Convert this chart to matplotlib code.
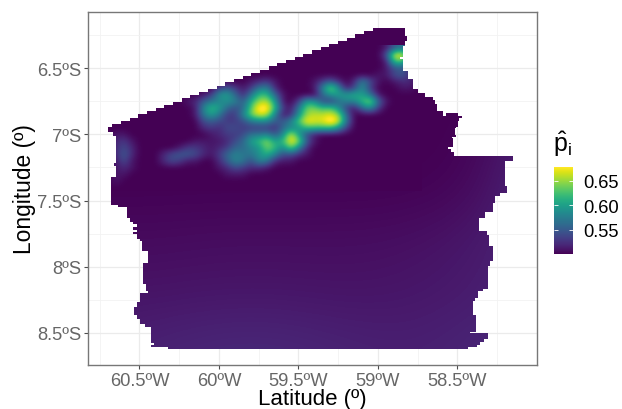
#!/usr/bin/python

# Raster map of p hat over the study area, with a stepped boundary

import numpy as np
import matplotlib
matplotlib.use('Agg')
import matplotlib.pyplot as plt
from matplotlib.colors import Normalize
from matplotlib.patches import PathPatch
from matplotlib.path import Path

plt.rcParams['font.family'] = ['Liberation Sans', 'DejaVu Sans']
plt.rcParams['mathtext.fontset'] = 'custom'
plt.rcParams['mathtext.rm'] = 'Liberation Sans'
plt.rcParams['mathtext.it'] = 'Liberation Sans:italic'

x_ticks = [-60.5, -60, -59.5, -59, -58.5]
x_labels = ['60.5ºW', '60ºW', '59.5ºW', '59ºW', '58.5ºW']
x_minor = [-60.75, -60.25, -59.75, -59.25, -58.75, -58.25]
y_ticks = [-6.5, -7, -7.5, -8, -8.5]
y_labels = ['6.5ºS', '7ºS', '7.5ºS', '8ºS', '8.5ºS']
y_minor = [-6.25, -6.75, -7.25, -7.75, -8.25]
bar_ticks = [0.55, 0.60, 0.65]
bar_labels = ['0.55', '0.60', '0.65']

# Boundary of the area, clockwise from the flat top edge
border_lon = [-58.827, -58.827, -58.815, -58.815, -58.827, -58.827, -58.840, -58.840, -58.840, -58.859,
              -58.859, -58.840, -58.840, -58.809, -58.777, -58.777, -58.746, -58.702, -58.651, -58.639,
              -58.626, -58.594, -58.588, -58.569, -58.494, -58.469, -58.487, -58.494, -58.506, -58.513,
              -58.506, -58.532, -58.525, -58.557, -58.538, -58.519, -58.128, -58.147, -58.198, -58.198,
              -58.185, -58.229, -58.261, -58.273, -58.324, -58.361, -58.361, -58.311, -58.298, -58.273,
              -58.273, -58.292, -58.305, -58.305, -58.336, -58.368, -58.387, -58.399, -58.399, -58.380,
              -58.380, -58.418, -58.307, -58.305, -58.330, -58.355, -58.374, -58.431, -60.320, -60.320,
              -60.427, -60.427, -60.408, -60.408, -60.427, -60.427, -60.465, -60.496, -60.515, -60.537,
              -60.537, -60.515, -60.515, -60.499, -60.499, -60.448, -60.448, -60.458, -60.458, -60.477,
              -60.477, -60.448, -60.448, -60.484, -60.484, -60.499, -60.515, -60.540, -60.540, -60.515,
              -60.515, -60.540, -60.540, -60.515, -60.515, -60.540, -60.540, -60.559, -60.578, -60.578,
              -60.635, -60.679, -60.679, -60.647, -60.647, -60.660, -60.660, -60.647, -60.647, -60.666,
              -60.698]
border_lat = [-6.197, -6.258, -6.258, -6.295, -6.295, -6.333, -6.333, -6.393, -6.412, -6.412,
              -6.427, -6.427, -6.522, -6.582, -6.582, -6.658, -6.688, -6.718, -6.741, -6.771,
              -6.824, -6.824, -6.862, -6.839, -6.862, -6.877, -6.900, -6.945, -6.952, -7.002,
              -7.020, -7.028, -7.096, -7.111, -7.134, -7.162, -7.162, -7.202, -7.270, -7.390,
              -7.443, -7.466, -7.519, -7.587, -7.632, -7.647, -7.730, -7.761, -7.844, -7.874,
              -7.957, -7.995, -8.055, -8.168, -8.184, -8.236, -8.259, -8.297, -8.365, -8.448,
              -8.493, -8.501, -8.501, -8.546, -8.569, -8.591, -8.606, -8.622, -8.622, -8.606,
              -8.606, -8.591, -8.591, -8.576, -8.576, -8.455, -8.433, -8.395, -8.365, -8.365,
              -8.304, -8.304, -8.267, -8.267, -8.199, -8.199, -8.184, -8.184, -8.131, -8.123,
              -7.972, -7.972, -7.881, -7.881, -7.806, -7.791, -7.753, -7.753, -7.738, -7.738,
              -7.723, -7.723, -7.700, -7.700, -7.677, -7.677, -7.662, -7.632, -7.617, -7.549,
              -7.534, -7.511, -7.323, -7.315, -7.239, -7.239, -7.217, -7.209, -7.013, -6.983,
              -6.945]
# The long slanted north edge, from its west end to its east end
north_edge_lon = [-60.698, -59.004]
north_edge_lat = [-6.945, -6.197]
north_edge_steps = 31

# Coarse field over the whole area
coarse_lon = [-60.8, -60.4, -60.0, -59.6, -59.2, -58.8, -58.4, -58.0]
coarse_lat = [-6.2, -6.6, -7.0, -7.4, -7.8, -8.2, -8.6]
coarse_p = [[.500, .500, .500, .500, .500, .500, .500, .500],
            [.500, .500, .500, .500, .500, .500, .500, .500],
            [.500, .500, .500, .500, .500, .500, .500, .518],
            [.500, .500, .500, .500, .500, .500, .503, .522],
            [.505, .505, .506, .506, .506, .507, .511, .520],
            [.509, .509, .510, .510, .509, .510, .513, .518],
            [.514, .517, .520, .520, .517, .515, .518, .522]]

# Fine field over the northern part, in hundredths
fine_lon_start = -60.70
fine_lat_start = -6.35
fine_step = 0.05
fine_p = [
    [50, 50, 50, 50, 50, 50, 50, 50, 50, 50,  50, 50, 50, 50, 50, 50, 50, 50, 50, 50,  50, 50, 50, 50, 50, 50, 50, 50, 50, 50,  50, 50, 50, 50, 50, 51, 55, 57, 54, 50],
    [50, 50, 50, 50, 50, 50, 50, 50, 50, 50,  50, 50, 50, 50, 50, 50, 50, 50, 50, 50,  50, 50, 50, 50, 50, 50, 50, 50, 50, 50,  50, 50, 50, 50, 50, 54, 67, 68, 58, 51],
    [50, 50, 50, 50, 50, 50, 50, 50, 50, 50,  50, 50, 50, 50, 50, 50, 50, 50, 50, 50,  50, 50, 50, 50, 50, 50, 50, 50, 50, 50,  50, 50, 50, 50, 50, 51, 62, 63, 54, 50],
    [50, 50, 50, 50, 50, 50, 50, 50, 50, 50,  50, 50, 50, 50, 50, 50, 50, 50, 50, 50,  50, 50, 50, 50, 50, 50, 50, 50, 50, 50,  50, 50, 50, 50, 50, 51, 54, 55, 52, 50],
    [50, 50, 50, 50, 50, 50, 50, 50, 50, 50,  50, 50, 50, 50, 50, 50, 50, 50, 50, 50,  50, 50, 50, 50, 50, 50, 50, 50, 50, 50,  50, 50, 50, 50, 51, 51, 54, 55, 52, 50],
    [50, 50, 50, 50, 50, 50, 50, 50, 50, 50,  50, 50, 50, 50, 50, 50, 50, 50, 51, 52,  53, 51, 50, 50, 50, 50, 51, 53, 55, 52,  50, 52, 58, 54, 51, 50, 51, 52, 52, 50],
    [50, 50, 50, 50, 50, 50, 50, 50, 50, 50,  50, 50, 50, 50, 53, 55, 53, 51, 53, 57,  58, 52, 50, 50, 50, 50, 51, 58, 65, 59,  51, 54, 59, 53, 50, 50, 50, 51, 51, 50],
    [50, 50, 50, 50, 50, 50, 50, 50, 50, 50,  50, 50, 51, 53, 59, 60, 56, 52, 57, 62,  62, 56, 51, 50, 50, 50, 50, 56, 59, 60,  60, 61, 60, 57, 51, 50, 50, 50, 50, 50],
    [50, 50, 50, 50, 50, 50, 50, 50, 50, 50,  51, 52, 55, 57, 58, 59, 58, 55, 61, 65,  66, 60, 51, 50, 53, 60, 59, 54, 53, 56,  58, 58, 62, 65, 56, 51, 50, 50, 50, 50],
    [50, 50, 50, 50, 50, 50, 50, 50, 50, 50,  50, 51, 58, 62, 60, 56, 54, 56, 63, 69,  69, 62, 53, 51, 57, 64, 64, 62, 63, 59,  53, 51, 56, 59, 53, 50, 50, 50, 50, 50],
    [50, 50, 50, 50, 50, 50, 50, 50, 50, 50,  50, 51, 57, 60, 57, 53, 53, 58, 64, 67,  66, 58, 51, 52, 59, 65, 66, 66, 67, 65,  56, 50, 50, 50, 50, 50, 50, 50, 50, 50],
    [50, 50, 50, 50, 50, 50, 50, 50, 50, 50,  50, 50, 54, 55, 54, 53, 53, 54, 57, 58,  58, 55, 55, 58, 63, 68, 67, 67, 70, 67,  57, 50, 50, 50, 50, 50, 50, 50, 50, 50],
    [50, 50, 50, 50, 50, 50, 50, 50, 50, 50,  50, 50, 52, 53, 52, 54, 54, 53, 53, 53,  53, 52, 56, 58, 59, 62, 62, 62, 62, 59,  53, 50, 50, 50, 50, 50, 50, 50, 50, 50],
    [50, 51, 51, 50, 50, 50, 50, 50, 50, 50,  50, 50, 50, 51, 52, 53, 53, 54, 57, 57,  58, 55, 58, 67, 60, 54, 51, 50, 50, 50,  50, 50, 50, 50, 50, 50, 50, 50, 50, 50],
    [50, 52, 53, 51, 50, 50, 50, 50, 50, 50,  50, 51, 51, 51, 51, 52, 54, 56, 60, 62,  65, 60, 62, 68, 65, 55, 51, 50, 50, 50,  50, 50, 50, 50, 50, 50, 50, 50, 50, 50],
    [50, 52, 54, 52, 50, 50, 50, 50, 50, 51,  53, 53, 52, 51, 52, 53, 56, 56, 58, 59,  64, 62, 58, 64, 58, 52, 50, 50, 50, 50,  50, 50, 50, 50, 50, 50, 50, 50, 50, 50],
    [50, 52, 55, 52, 50, 50, 50, 52, 54, 55,  55, 54, 52, 51, 53, 56, 58, 57, 57, 59,  61, 58, 54, 54, 52, 51, 50, 50, 50, 50,  50, 50, 50, 50, 50, 50, 50, 50, 50, 50],
    [50, 51, 54, 51, 50, 50, 50, 52, 54, 53,  51, 51, 50, 50, 52, 55, 58, 57, 54, 58,  57, 52, 51, 51, 50, 50, 50, 50, 50, 50,  50, 50, 50, 50, 50, 50, 50, 50, 50, 50],
    [50, 51, 52, 51, 50, 50, 50, 50, 50, 50,  50, 50, 50, 50, 51, 52, 54, 53, 52, 52,  51, 50, 50, 50, 50, 50, 50, 50, 50, 50,  50, 50, 50, 50, 50, 50, 50, 50, 50, 50],
    [50, 51, 51, 50, 50, 50, 50, 50, 50, 50,  50, 50, 50, 50, 50, 51, 51, 51, 50, 50,  50, 50, 50, 50, 50, 50, 50, 50, 50, 50,  50, 50, 50, 50, 50, 50, 50, 50, 50, 50],
    [50, 51, 50, 50, 50, 50, 50, 50, 50, 50,  50, 50, 50, 50, 50, 50, 50, 50, 50, 50,  50, 50, 50, 50, 50, 50, 50, 50, 50, 50,  50, 50, 50, 50, 50, 50, 50, 50, 50, 50],
    [50, 50, 50, 50, 50, 50, 50, 50, 50, 50,  50, 50, 50, 50, 50, 50, 50, 50, 50, 50,  50, 50, 50, 50, 50, 50, 50, 50, 50, 50,  50, 50, 50, 50, 50, 50, 50, 50, 50, 50],
]

P_MIN = 0.50
P_MAX = 0.677
W = 622.0
H = 410.0


# Turns the boundary into right angled steps, like the edge of a raster
def stepped_outline():
    steps_lon = np.linspace(north_edge_lon[0], north_edge_lon[1], north_edge_steps + 1)
    steps_lat = np.linspace(north_edge_lat[0], north_edge_lat[1], north_edge_steps + 1)
    pts = []
    for lon, lat in zip(border_lon, border_lat):
        if pts and pts[-1][0] != lon and pts[-1][1] != lat:
            pts.append((lon, pts[-1][1]))
        pts.append((lon, lat))
    for i in range(north_edge_steps):
        middle = (steps_lon[i] + steps_lon[i + 1]) / 2
        pts.append((middle, steps_lat[i]))
        pts.append((middle, steps_lat[i + 1]))
    pts.append((steps_lon[-1], steps_lat[-1]))
    pts.append(pts[0])
    return Path(pts, closed=True)


def main():
    fig = plt.figure(figsize=(W / 100, H / 100), dpi=100)
    ax = fig.add_axes([88.3 / W, 1 - 366 / H, 448.4 / W, 352.7 / H])
    norm = Normalize(P_MIN, P_MAX)

    coarse = np.array(coarse_p)
    half = (coarse_lon[1] - coarse_lon[0]) / 2
    im = ax.imshow(coarse, cmap='viridis', norm=norm, interpolation='bicubic', aspect='auto',
                   extent=(coarse_lon[0] - half, coarse_lon[-1] + half,
                           coarse_lat[-1] - half, coarse_lat[0] + half), zorder=2)

    fine = np.array(fine_p) / 100.0
    rows, cols = fine.shape
    fine_im = ax.imshow(fine, cmap='viridis', norm=norm, interpolation='bicubic', aspect='auto',
                        extent=(fine_lon_start - fine_step / 2,
                                fine_lon_start + (cols - 0.5) * fine_step,
                                fine_lat_start - (rows - 0.5) * fine_step,
                                fine_lat_start + fine_step / 2), zorder=3)

    outline = PathPatch(stepped_outline(), transform=ax.transData, facecolor='none', edgecolor='none')
    ax.add_patch(outline)
    im.set_clip_path(outline)
    fine_im.set_clip_path(outline)

    ax.set_xlim(-60.822, -58.0)
    ax.set_ylim(-8.742, -6.078)

    ax.set_xticks(x_ticks)
    ax.set_xticklabels(x_labels)
    ax.set_yticks(y_ticks)
    ax.set_yticklabels(y_labels)
    ax.set_xticks(x_minor, minor=True)
    ax.set_yticks(y_minor, minor=True)
    ax.tick_params(which='minor', length=0)
    ax.tick_params(which='major', length=2.6, width=0.8, color='#4D4D4D', labelcolor='#666666',
                   labelsize=13.2, pad=2.5)
    ax.grid(which='major', color='#EBEBEB', linewidth=0.9, zorder=0)
    ax.grid(which='minor', color='#F2F2F2', linewidth=0.6, zorder=0)
    ax.set_axisbelow(True)
    for spine in ax.spines.values():
        spine.set_color('#777777')
        spine.set_linewidth(1.0)

    fig.text(312 / W, 1 - 399.5 / H, 'Latitude (º)', fontsize=16, ha='center', va='center', color='black')
    fig.text(24 / W, 1 - 189 / H, 'Longitude (º)', fontsize=16.4, ha='center', va='center',
             rotation=90, color='black')

    # Colour bar with white ticks inside it, as ggplot draws it
    cax = fig.add_axes([554.3 / W, 1 - 255 / H, 18.7 / W, 86.7 / H])
    bar = fig.colorbar(im, cax=cax)
    bar.outline.set_visible(False)
    bar.set_ticks(bar_ticks)
    bar.set_ticklabels(bar_labels)
    cax.tick_params(which='minor', length=0)
    cax.tick_params(left=True, right=True, direction='in', length=2.8, width=0.6, color='white',
                    labelsize=13.2, labelcolor='black', pad=7.5)

    fig.text(553 / W, 1 - 144 / H, r'$\hat{\mathrm{p}}_{\mathrm{i}}$', fontsize=18, ha='left', va='center',
             color='black')

    fig.savefig('out.png', dpi=100)


if __name__ == '__main__':
    main()
